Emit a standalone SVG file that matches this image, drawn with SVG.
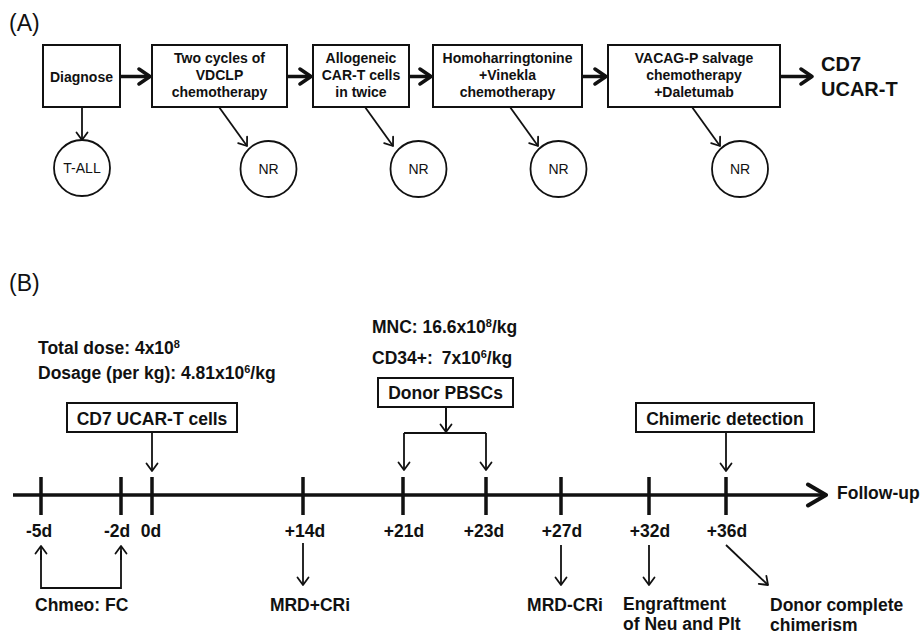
<svg xmlns="http://www.w3.org/2000/svg" width="922" height="636" viewBox="0 0 922 636">
<style>
text{font-family:"Liberation Sans",Arial,sans-serif;fill:#111}
.b{font-weight:bold}
.a{font-size:14px;font-weight:bold;text-anchor:middle}
.c{font-size:14px;text-anchor:middle}
.t{font-size:17.5px;font-weight:bold}
.m{text-anchor:middle}
.box{fill:#fff;stroke:#111;stroke-width:2}
.circ{fill:#fff;stroke:#111;stroke-width:1.8}
.thin{fill:none;stroke:#111;stroke-width:1.8;marker-end:url(#ah)}
.thick{fill:none;stroke:#111;stroke-width:3.5;marker-end:url(#ahT)}
.line{fill:none;stroke:#111;stroke-width:1.8}
.tick{stroke:#111;stroke-width:3.5}
</style>
<defs>
<marker id="ah" viewBox="-10 -7 12 14" markerWidth="12" markerHeight="14" refX="0" refY="0" orient="auto" markerUnits="userSpaceOnUse">
<path d="M-7.5,-5.5 L0,0 L-7.5,5.5" fill="none" stroke="#111" stroke-width="1.8" stroke-linejoin="round" stroke-linecap="round"/>
</marker>
<marker id="ahT" viewBox="-16 -10 18 20" markerWidth="18" markerHeight="20" refX="0" refY="0" orient="auto" markerUnits="userSpaceOnUse">
<path d="M-11,-7.5 L0,0 L-11,7.5" fill="none" stroke="#111" stroke-width="3.5" stroke-linejoin="round" stroke-linecap="round"/>
</marker>
<marker id="ahL" viewBox="-24 -14 26 28" markerWidth="26" markerHeight="28" refX="0" refY="0" orient="auto" markerUnits="userSpaceOnUse">
<path d="M-18,-10.5 L0,0 L-18,10.5" fill="none" stroke="#111" stroke-width="4" stroke-linejoin="round" stroke-linecap="round"/>
</marker>
</defs>
<rect width="922" height="636" fill="#fff"/>

<!-- Panel A -->
<text x="9" y="31" style="font-size:23px">(A)</text>

<g id="connectors-A">
<path class="thick" d="M120,76.5 H150"/>
<path class="thick" d="M287,76.5 H311"/>
<path class="thick" d="M409,76.5 H431"/>
<path class="thick" d="M582,76.5 H606"/>
<path class="thick" d="M780,76.5 H812"/>
<path class="thin" d="M82,107 V140"/>
<path class="thin" d="M219,107 L247,146"/>
<path class="thin" d="M365,107 L393,146"/>
<path class="thin" d="M510,107 L538,146"/>
<path class="thin" d="M692,107 L720,146"/>
</g>

<g id="n-diagnose"><rect class="box" x="43" y="45" width="77" height="62"/><text class="a" x="81.5" y="81.5">Diagnose</text></g>
<g id="n-vdclp"><rect class="box" x="152" y="45" width="135" height="62"/><text class="a" x="219.5" y="63">Two cycles of</text><text class="a" x="219.5" y="80">VDCLP</text><text class="a" x="219.5" y="97">chemotherapy</text></g>
<g id="n-allo"><rect class="box" x="313" y="45" width="96" height="62"/><text class="a" x="361" y="63">Allogeneic</text><text class="a" x="361" y="80">CAR-T cells</text><text class="a" x="361" y="97">in twice</text></g>
<g id="n-homo"><rect class="box" x="433" y="45" width="149" height="62"/><text class="a" x="507.5" y="63">Homoharringtonine</text><text class="a" x="507.5" y="80">+Vinekla</text><text class="a" x="507.5" y="97">chemotherapy</text></g>
<g id="n-vacag"><rect class="box" x="608" y="45" width="172" height="62"/><text class="a" x="694" y="63">VACAG-P salvage</text><text class="a" x="694" y="80">chemotherapy</text><text class="a" x="694" y="97">+Daletumab</text></g>
<g id="n-cd7"><text class="b" x="821" y="71" style="font-size:20px">CD7</text><text class="b" x="821" y="96" style="font-size:20px">UCAR-T</text></g>
<g id="n-tall"><circle class="circ" cx="82" cy="168" r="28"/><text class="c" x="82" y="173">T-ALL</text></g>
<g id="n-nr1"><circle class="circ" cx="268.5" cy="169" r="28"/><text class="c" x="268.5" y="174">NR</text></g>
<g id="n-nr2"><circle class="circ" cx="418.5" cy="169" r="28"/><text class="c" x="418.5" y="174">NR</text></g>
<g id="n-nr3"><circle class="circ" cx="558.5" cy="169" r="28"/><text class="c" x="558.5" y="174">NR</text></g>
<g id="n-nr4"><circle class="circ" cx="740" cy="169" r="28"/><text class="c" x="740" y="174">NR</text></g>

<!-- Panel B -->
<text x="9" y="291" style="font-size:23px">(B)</text>

<g id="connectors-B">
<path d="M13,495 H826" fill="none" stroke="#111" stroke-width="3.5" marker-end="url(#ahL)"/>
<path class="tick" d="M41,477 V515 M121,477 V515 M152,477 V515 M303,477 V515 M403,477 V515 M486,477 V515 M561,477 V515 M649,477 V515 M726,477 V515"/>
<path class="thin" d="M152,432 V471"/>
<path class="line" d="M446,407 V433 M404,433 H486"/>
<path class="thin" d="M446,407 V432"/>
<path class="thin" d="M404,433 V470"/>
<path class="thin" d="M486,433 V470"/>
<path class="thin" d="M726,432 V471"/>
<path class="line" d="M41,551 V588 H121 V551"/>
<path class="thin" d="M41,560 V546"/>
<path class="thin" d="M121,560 V546"/>
<path class="thin" d="M303,543 V585"/>
<path class="thin" d="M561,545 V585"/>
<path class="thin" d="M649,545 V585"/>
<path class="thin" d="M726,545 L768,585"/>
</g>

<g id="n-dose">
<text class="t" x="38" y="354">Total dose: 4x10<tspan font-size="11" dy="-6">8</tspan></text>
<text class="t" x="38" y="379">Dosage (per kg): 4.81x10<tspan font-size="11" dy="-6">6</tspan><tspan dy="6">/kg</tspan></text>
</g>
<g id="n-ucart"><rect class="box" x="67" y="403" width="170" height="29"/><text class="t m" x="152" y="424.5">CD7 UCAR-T cells</text></g>
<g id="n-mnc">
<text class="t" x="372" y="333">MNC: 16.6x10<tspan font-size="11" dy="-6">8</tspan><tspan dy="6">/kg</tspan></text>
<text class="t" x="372" y="364">CD34+:<tspan dx="9">7x10</tspan><tspan font-size="11" dy="-6">6</tspan><tspan dy="6">/kg</tspan></text>
</g>
<g id="n-pbsc"><rect class="box" x="378" y="378" width="135" height="29"/><text class="t m" x="445.5" y="399">Donor PBSCs</text></g>
<g id="n-chim"><rect class="box" x="636" y="403" width="178" height="29"/><text class="t m" x="725" y="424.5">Chimeric detection</text></g>
<g id="n-follow"><text class="t" x="837" y="499">Follow-up</text></g>

<g id="ticklabels">
<text class="t m" x="39" y="537">-5d</text>
<text class="t m" x="117" y="537">-2d</text>
<text class="t m" x="151" y="537">0d</text>
<text class="t m" x="305" y="537">+14d</text>
<text class="t m" x="404" y="537">+21d</text>
<text class="t m" x="484" y="537">+23d</text>
<text class="t m" x="562" y="537">+27d</text>
<text class="t m" x="650" y="537">+32d</text>
<text class="t m" x="727" y="537">+36d</text>
</g>

<g id="n-chmeo"><text class="t" x="35" y="611">Chmeo: FC</text></g>
<g id="n-mrdpos"><text class="t m" x="310" y="611">MRD+CRi</text></g>
<g id="n-mrdneg"><text class="t m" x="565" y="611">MRD-CRi</text></g>
<g id="n-engraft"><text class="t" x="623" y="610">Engraftment</text><text class="t" x="623" y="630">of Neu and Plt</text></g>
<g id="n-donor"><text class="t" x="770" y="611">Donor complete</text><text class="t" x="770" y="631">chimerism</text></g>
</svg>
